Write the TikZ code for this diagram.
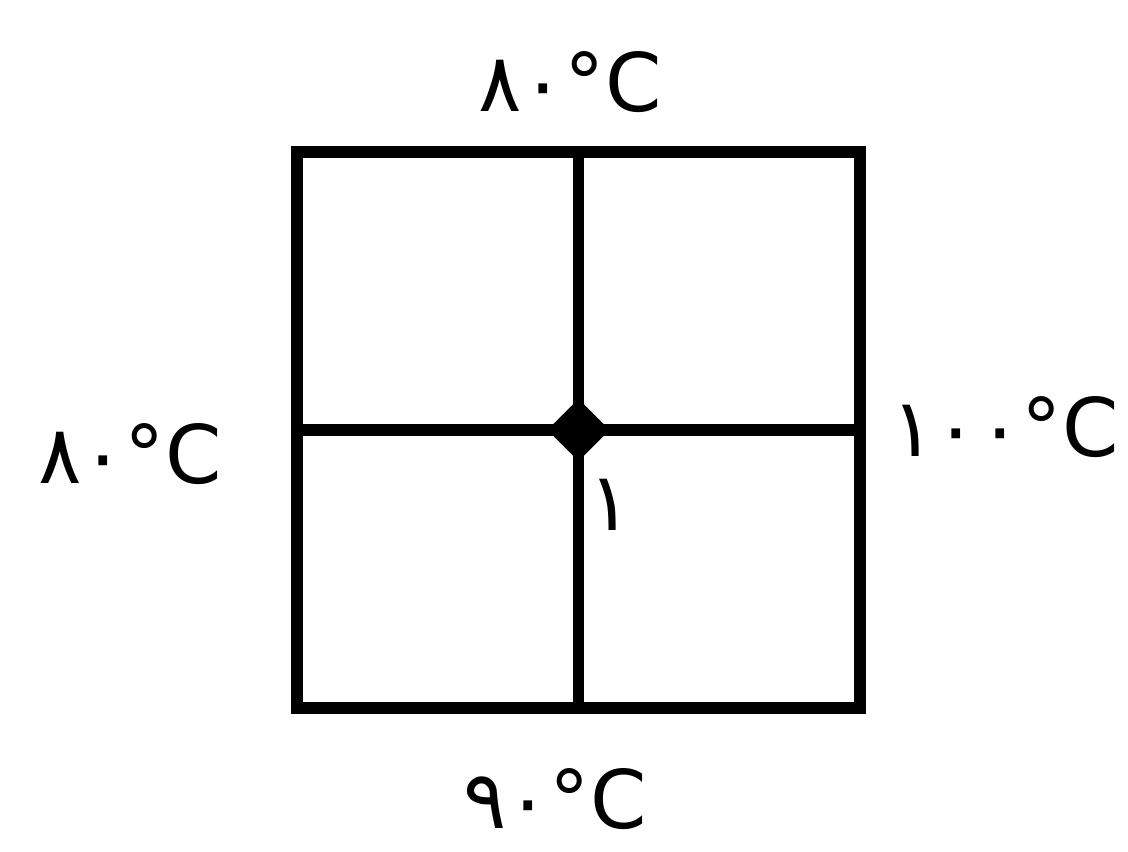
\documentclass[tikz,border=0pt]{standalone}
\usepackage{fontspec}
\newfontfamily\arabicfont[Script=Arabic]{DejaVu Sans}
\usetikzlibrary{shapes.geometric}

\tikzset{
    templabel/.style={font=\arabicfont\fontsize{46}{46}\selectfont, inner sep=0pt},
    gridline/.style={line width=6.6pt, line cap=round},
    joint/.style={diamond, fill=black, minimum size=1.25cm, inner sep=0pt}
}

\begin{document}
\begin{tikzpicture}
    \useasboundingbox (0,0) rectangle (22.56,17.04);

    % Grid parameters
    \def\xo{5.94}
    \def\yo{2.88}
    \def\cw{5.63}
    \def\ch{5.56}

    % Draw grid
    \foreach \i in {0,1} {
        \foreach \j in {0,1} {
            \draw[gridline] (\xo+\i*\cw,\yo+\j*\ch) rectangle ++(\cw,\ch);
        }
    }

    % Inner node
    \node[joint] (n1) at (\xo+\cw,\yo+\ch) {};
    \node[templabel] (n1lab) at (12.2,6.94) {۱};

    % Boundary temperatures
    \node[templabel] (top) at (11.4,15.4) {۸۰°C};
    \node[templabel] (left) at (2.6,7.95) {۸۰°C};
    \node[templabel] (right) at (20.1,8.5) {۱۰۰°C};
    \node[templabel] (bottom) at (11.1,1.05) {۹۰°C};

\end{tikzpicture}
\end{document}
